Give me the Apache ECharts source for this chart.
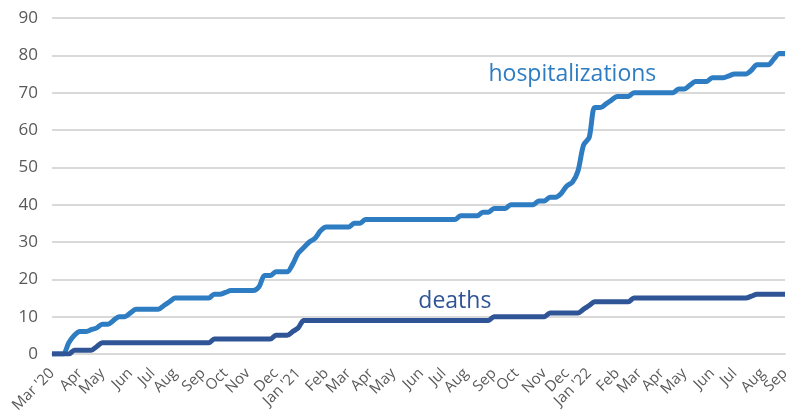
<!DOCTYPE html>
<html>
<head>
<meta charset="utf-8">
<script src="https://cdn.jsdelivr.net/npm/echarts@6/dist/echarts.min.js"></script>
<style>html,body{margin:0;padding:0;background:#fff}#c{width:786px;height:410px}</style>
</head>
<body>
<div id="c"></div>
<script>
// Weekly categories (Sundays), Mar 1 2020 .. Sep 4 2022
const weeks = [];
for (let i = 0; i < 132; i++) {
  const d = new Date(Date.UTC(2020, 2, 1) + i * 7 * 86400000);
  weeks.push(d.toISOString().slice(0, 10));
}
const monthNames = ['Jan','Feb','Mar','Apr','May','Jun','Jul','Aug','Sep','Oct','Nov','Dec'];

const hospitalizations = [0,0,0,3,5, 6,6,6.5,7,8,8,9,10,10,11, 12,12,12,12,12, 13,14,
  15,15,15,15,15,15,15, 16,16,16.5, 17,17,17,17,17, 18,21,21, 22,22,22, 24,27,28.5,30,31,33,
  34,34,34,34,34, 35,35,
  36,36,36,36,36,36,36,36,36,36,36,36,36,36,36,36,36,
  37,37,37,37, 38,38, 39,39,39, 40,40,40,40,40, 41,41, 42,42,
  43,45,46,49,56,58, 66,66,67,68, 69,69,69, 70,70,70,70,70,70,70,70, 71,71, 72,
  73,73,73, 74,74,74, 74.5, 75,75,75, 76, 77.5,77.5,77.5, 79,80.5,80.5];

const deaths = [0,0,0,0, 1,1,1,1, 2,
  3,3,3,3,3,3,3,3,3,3,3,3,3,3,3,3,3,3,3,3,
  4,4,4,4,4,4,4,4,4,4,4,
  5,5,5, 6,7,
  9,9,9,9,9,9,9,9,9,9,9,9,9,9,9,9,9,9,9,9,9,9,9,9,9,9,9,9,9,9,9,9,9,9,
  10,10,10,10,10,10,10,10,10,10,
  11,11,11,11,11,11, 12,13,
  14,14,14,14,14,14,14,
  15,15,15,15,15,15,15,15,15,15,15,15,15,15,15,15,15,15,15,15,15,
  15.5, 16,16,16,16,16,16];

const yTicks = [0,10,20,30,40,50,60,70,80,90];

function isMonthStart(i) {
  if (i === 0) return true;
  return weeks[i].slice(5,7) !== weeks[i-1].slice(5,7);
}
function monthLabel(v, i) {
  const m = parseInt(v.slice(5,7), 10) - 1;
  const y = v.slice(2,4);
  if (i === 0 || m === 0) return monthNames[m] + " '" + y;
  return monthNames[m];
}

const HC = '#2e7dc3', DC = '#2f5597';
const chart = echarts.init(document.getElementById('c'));
chart.setOption({
  animation: false,
  grid: { left: 52, right: 1, top: 18, bottom: 56, containLabel: false, outerBoundsMode: 'none' },
  xAxis: {
    type: 'category', data: weeks, boundaryGap: false,
    axisLine: { lineStyle: { color: '#d9d9d9', width: 2 } },
    axisTick: { show: false },
    axisLabel: {
      interval: (i) => isMonthStart(i),
      formatter: (v, i) => monthLabel(v, i),
      rotate: 45, color: '#595959', fontSize: 15, fontFamily: 'Open Sans', margin: 17
    },
    splitLine: { show: false }
  },
  yAxis: {
    type: 'value', min: yTicks[0], max: yTicks[yTicks.length-1], interval: 10,
    axisLine: { show: false }, axisTick: { show: false },
    axisLabel: { color: '#595959', fontSize: 17, fontFamily: 'Open Sans', margin: 14 },
    splitLine: { lineStyle: { color: '#d9d9d9', width: 2 } }
  },
  series: [
    { name: 'hospitalizations', type: 'line', data: hospitalizations, showSymbol: false,
      smooth: 0.3, lineStyle: { color: HC, width: 5 }, itemStyle: { color: HC },
      markPoint: { symbol: 'circle', symbolSize: 0, silent: true,
        data: [{ coord: [weeks[93], 75], label: { show: true, formatter: 'hospitalizations',
          color: HC, fontSize: 23, fontFamily: 'Open Sans' } }] } },
    { name: 'deaths', type: 'line', data: deaths, showSymbol: false,
      smooth: 0.3, lineStyle: { color: DC, width: 5 }, itemStyle: { color: DC },
      markPoint: { symbol: 'circle', symbolSize: 0, silent: true,
        data: [{ coord: [weeks[72], 14.2], label: { show: true, formatter: 'deaths',
          color: DC, fontSize: 23, fontFamily: 'Open Sans' } }] } }
  ]
});
</script>
</body>
</html>
